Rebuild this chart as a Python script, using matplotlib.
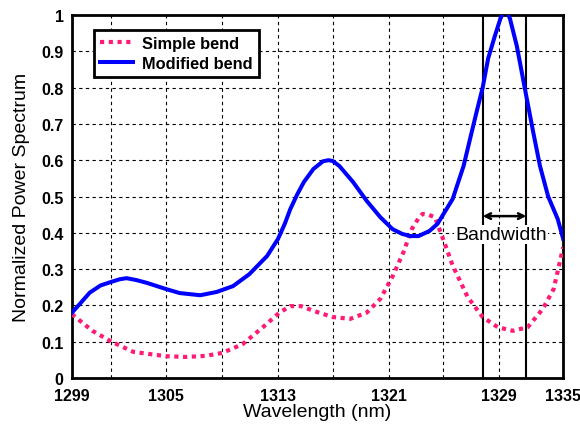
import numpy as np
import matplotlib.pyplot as plt

plt.rcParams['font.family'] = ['Liberation Sans', 'DejaVu Sans']

# Modified bend (blue)
mod_x = [1299.0, 1299.6, 1300.3, 1301.1, 1301.9, 1302.5, 1303.0, 1303.7, 1304.5,
         1305.9, 1306.9, 1308.4, 1309.6, 1310.8, 1312.0, 1313.3, 1314.1, 1314.6,
         1315.0, 1315.5, 1316.0, 1316.7, 1317.4, 1317.8, 1318.1, 1318.6, 1319.6,
         1320.6, 1321.6, 1322.5, 1323.2, 1323.8, 1324.4, 1325.2, 1325.8, 1326.2,
         1326.9, 1327.7, 1328.3, 1328.7, 1329.1, 1329.5, 1330.0, 1330.4, 1330.75,
         1331.1, 1331.6, 1332.2, 1332.8, 1333.3, 1333.9, 1334.6, 1335.0]
mod_y = [0.18, 0.205, 0.235, 0.255, 0.265, 0.272, 0.275, 0.27, 0.262,
         0.245, 0.234, 0.228, 0.237, 0.253, 0.286, 0.336, 0.383, 0.425,
         0.465, 0.505, 0.54, 0.576, 0.597, 0.60, 0.598, 0.584, 0.54,
         0.488, 0.443, 0.41, 0.397, 0.391, 0.391, 0.405, 0.425, 0.45,
         0.493, 0.584, 0.678, 0.74, 0.80, 0.88, 0.943, 0.99, 1.02,
         0.99, 0.915, 0.796, 0.678, 0.584, 0.50, 0.438, 0.383]

# Simple bend (pink dotted)
simp_x = [1299.0, 1300.5, 1301.9, 1303.5, 1305.9, 1307.4, 1308.8, 1310.0, 1311.5,
          1313.0, 1314.2, 1315.0, 1315.8, 1316.7, 1318.1, 1319.4, 1320.6, 1321.6,
          1322.5, 1323.3, 1323.9, 1324.4, 1324.7, 1325.1, 1325.6, 1326.2, 1326.9,
          1328.0, 1329.1, 1330.2, 1331.3, 1332.4, 1333.5, 1334.3, 1335.0]
simp_y = [0.176, 0.13, 0.10, 0.072, 0.06, 0.058, 0.061, 0.069, 0.093,
          0.14, 0.18, 0.198, 0.198, 0.185, 0.168, 0.163, 0.18, 0.218,
          0.28, 0.347, 0.41, 0.44, 0.452, 0.45, 0.443, 0.383, 0.31,
          0.223, 0.168, 0.14, 0.13, 0.14, 0.19, 0.245, 0.36]

# gridline positions (axis units) and their labels
grid_x = [1299, 1301.9, 1305.9, 1310.0, 1314.1, 1318.1, 1322.2, 1326.2, 1330.3, 1335]
grid_lbl = ['1299', '', '1305', '', '1313', '', '1321', '', '1329', '1335']
y_ticks = [0, 0.1, 0.2, 0.3, 0.4, 0.5, 0.6, 0.7, 0.8, 0.9, 1]
y_lbl = ['0', '0.1', '0.2', '0.3', '0.4', '0.5', '0.6', '0.7', '0.8', '0.9', '1']

# bandwidth markers
bw_left = 1329.1
bw_right = 1332.3
bw_level = 0.446

fig = plt.figure(figsize=(5.8, 4.27), dpi=100)
ax = fig.add_axes([0.124, 0.1124, 0.847, 0.8501])

ax.plot(simp_x, simp_y, color='#FF1A75', lw=3.0, linestyle=(0, (1, 1.1)),
        dash_capstyle='butt', label='Simple bend', zorder=3)
ax.plot(mod_x, mod_y, color='#0000FF', lw=2.9, label='Modified bend', zorder=3)

ax.axvline(bw_left, color='black', lw=1.5, zorder=2)
ax.axvline(bw_right, color='black', lw=1.5, zorder=2)
ax.annotate('', xy=(bw_left, bw_level), xytext=(bw_right, bw_level),
            arrowprops=dict(arrowstyle='<->', color='black', lw=1.8,
                            shrinkA=0, shrinkB=0), zorder=4)
ax.text((bw_left + bw_right) / 2 - 0.25, 0.395, 'Bandwidth', fontsize=14,
        ha='center', va='center', zorder=5,
        bbox=dict(facecolor='white', edgecolor='none', pad=0.5))

ax.set_xlim(1299, 1335)
ax.set_ylim(0, 1)
ax.set_xticks(grid_x)
ax.set_xticklabels(grid_lbl, fontweight='bold', fontsize=11.5)
ax.set_yticks(y_ticks)
ax.set_yticklabels(y_lbl, fontweight='bold', fontsize=11.5)
ax.tick_params(length=0)
ax.tick_params(axis='x', pad=7)
ax.tick_params(axis='y', pad=6)
ax.grid(True, color='black', linestyle=(0, (3, 3)), lw=0.8)

for s in ax.spines.values():
    s.set_linewidth(2)

ax.set_xlabel('Wavelength (nm)', fontsize=14, labelpad=0)
ax.set_ylabel('Normalized Power Spectrum', fontsize=14, labelpad=8)

leg = ax.legend(loc='upper left', bbox_to_anchor=(0.045, 0.959), fancybox=False,
                prop={'weight': 'bold', 'size': 11.75}, handlelength=2.0,
                borderpad=0.38, labelspacing=0.3, handletextpad=0.55,
                borderaxespad=0, framealpha=1)
leg.get_frame().set_edgecolor('black')
leg.get_frame().set_linewidth(2)

fig.savefig('out.png', dpi=100)
